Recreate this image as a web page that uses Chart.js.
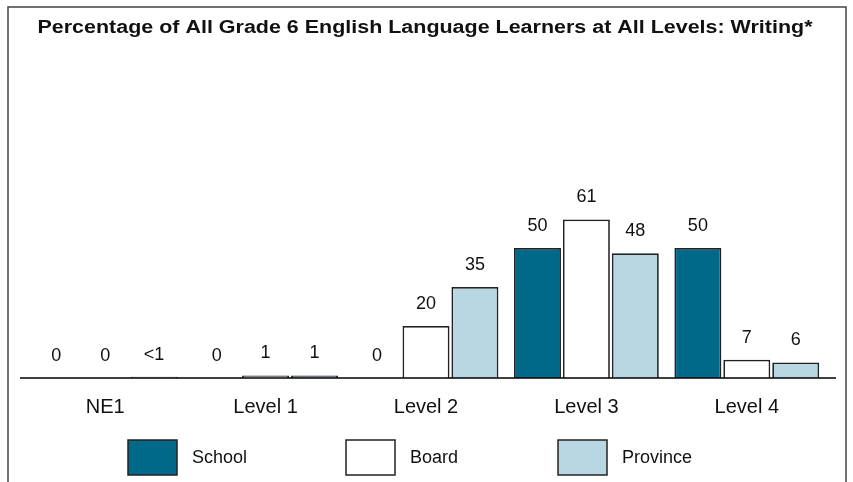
<!DOCTYPE html>
<html>
<head>
<meta charset="utf-8">
<script src="https://cdn.jsdelivr.net/npm/chart.js@4"></script>
<style>
  html, body { margin: 0; padding: 0; background: #fff; }
  canvas { display: block; }
</style>
</head>
<body>
<canvas id="myChart" width="853" height="482"></canvas>
<script>
const categories = ["NE1", "Level 1", "Level 2", "Level 3", "Level 4"];
const seriesNames = ["School", "Board", "Province"];
// "<1" is plotted as 0.5
const schoolValues = [0, 0, 0, 50, 50];
const boardValues = [0, 1, 20, 61, 7];
const provinceValues = [0.5, 1, 35, 48, 6];
const schoolLabels = ["0", "0", "0", "50", "50"];
const boardLabels = ["0", "1", "20", "61", "7"];
const provinceLabels = ["<1", "1", "35", "48", "6"];
const titleText = "Percentage of All Grade 6 English Language Learners at All Levels: Writing*";

const colors = ["#00698a", "#ffffff", "#b9d7e2"];
const edge = "#222";
const fontFam = "'Liberation Sans', Arial, sans-serif";

// value labels, frame, title, long baseline and legend
const extrasPlugin = {
  id: "extras",
  afterDatasetsDraw(chart) {
    const ctx = chart.ctx;
    const y0 = chart.scales.y.getPixelForValue(0);
    ctx.save();
    ctx.strokeStyle = "#000";
    ctx.lineWidth = 1.5;
    ctx.beginPath();
    ctx.moveTo(20, y0);
    ctx.lineTo(836, y0);
    ctx.stroke();

    const allLabels = [schoolLabels, boardLabels, provinceLabels];
    ctx.fillStyle = "#111";
    ctx.font = "18px " + fontFam;
    ctx.textAlign = "center";
    ctx.textBaseline = "bottom";
    chart.data.datasets.forEach((ds, di) => {
      const meta = chart.getDatasetMeta(di);
      meta.data.forEach((bar, i) => {
        ctx.fillText(allLabels[di][i], bar.x, bar.y - 13);
      });
    });
    ctx.restore();
  },
  afterDraw(chart) {
    const ctx = chart.ctx;
    ctx.save();
    // frame
    ctx.strokeStyle = "#444";
    ctx.lineWidth = 1.5;
    ctx.beginPath();
    ctx.moveTo(8, 482);
    ctx.lineTo(8, 7);
    ctx.lineTo(846, 7);
    ctx.lineTo(846, 482);
    ctx.stroke();

    // title, widened to the reference width
    ctx.fillStyle = "#111";
    ctx.font = "bold 18px " + fontFam;
    ctx.textAlign = "center";
    ctx.textBaseline = "middle";
    const w = ctx.measureText(titleText).width;
    const sx = 775 / w;
    ctx.save();
    ctx.translate(425, 28);
    ctx.scale(sx, 1);
    ctx.fillText(titleText, 0, 0);
    ctx.restore();

    // legend
    const starts = [128, 346, 558];
    ctx.font = "18px " + fontFam;
    ctx.textAlign = "left";
    ctx.textBaseline = "middle";
    chart.data.datasets.forEach((ds, i) => {
      const x = starts[i];
      ctx.fillStyle = ds.backgroundColor;
      ctx.fillRect(x, 440, 49, 35);
      ctx.strokeStyle = edge;
      ctx.lineWidth = 1.5;
      ctx.strokeRect(x, 440, 49, 35);
      ctx.fillStyle = "#111";
      ctx.fillText(ds.label, x + 64, 458);
    });
    ctx.restore();
  },
};

const makeDataset = (name, values, color) => ({
  label: name,
  data: values,
  backgroundColor: color,
  borderColor: edge,
  borderWidth: (c) => (c.raw === 0 ? 0 : 1.75),
  borderSkipped: "bottom",
  barPercentage: 0.96,
  categoryPercentage: 0.915,
});

new Chart(document.getElementById("myChart"), {
  type: "bar",
  data: {
    labels: categories,
    datasets: [
      makeDataset(seriesNames[0], schoolValues, colors[0]),
      makeDataset(seriesNames[1], boardValues, colors[1]),
      makeDataset(seriesNames[2], provinceValues, colors[2]),
    ],
  },
  options: {
    responsive: false,
    animation: false,
    layout: {
      padding: { left: 25, right: 26, top: 118, bottom: 46 },
    },
    plugins: {
      legend: { display: false },
      tooltip: { enabled: false },
      title: { display: false },
    },
    scales: {
      x: {
        grid: { display: false, drawTicks: false },
        border: { display: false },
        ticks: {
          color: "#111",
          padding: 17,
          font: { family: fontFam, size: 20 },
        },
      },
      y: {
        display: false,
        min: 0,
        max: 100,
      },
    },
  },
  plugins: [extrasPlugin],
});
</script>
</body>
</html>
